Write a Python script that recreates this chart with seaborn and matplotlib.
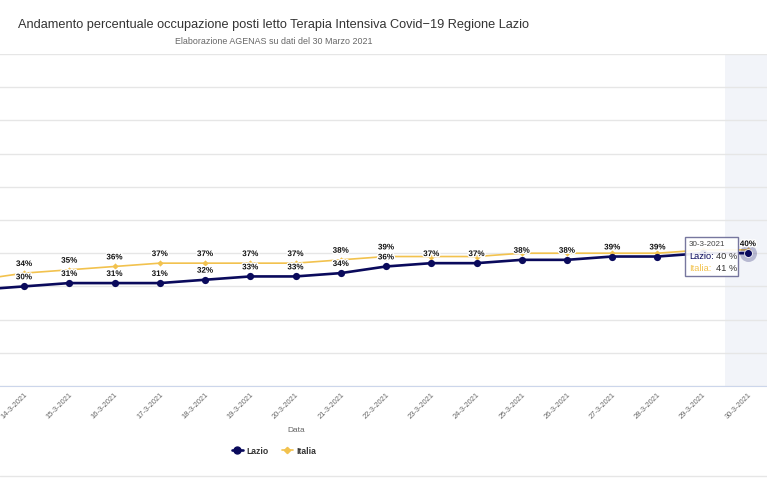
import matplotlib
matplotlib.use('Agg')
import matplotlib.pyplot as plt
import matplotlib.patheffects as pe
from matplotlib.lines import Line2D
from matplotlib.patches import Rectangle
import seaborn as sns
import pandas as pd

date = ['13-3-2021', '14-3-2021', '15-3-2021', '16-3-2021', '17-3-2021', '18-3-2021',
        '19-3-2021', '20-3-2021', '21-3-2021', '22-3-2021', '23-3-2021', '24-3-2021',
        '25-3-2021', '26-3-2021', '27-3-2021', '28-3-2021', '29-3-2021', '30-3-2021']
lazio = [29, 30, 31, 31, 31, 32, 33, 33, 34, 36, 37, 37, 38, 38, 39, 39, 40, 40]
italia = [32, 34, 35, 36, 37, 37, 37, 37, 38, 39, 39, 39, 40, 40, 40, 40, 41, 41]

c_lazio = '#0a0a5c'
c_italia = '#f2c24e'

sns.set_style('white')
plt.rcParams['font.family'] = ['Liberation Sans', 'DejaVu Sans']

W, H = 767, 478
fig = plt.figure(figsize=(W / 100, H / 100), dpi=100)
# l'area del grafico esce dal bordo sinistro (immagine ritagliata)
left_px, right_px, top_px, bot_px = -43.8, 770.6, 54, 386
ax = fig.add_axes([left_px / W, 1 - bot_px / H, (right_px - left_px) / W, (bot_px - top_px) / H])

df = pd.DataFrame({'Data': date, 'Lazio': lazio, 'Italia': italia})

sns.lineplot(data=df, x='Data', y='Italia', ax=ax, color=c_italia, lw=1.2,
             marker='D', markersize=3.2, markeredgewidth=0, zorder=3, sort=False)
sns.lineplot(data=df, x='Data', y='Lazio', ax=ax, color=c_lazio, lw=1.9,
             marker='o', markersize=5.2, markeredgewidth=0, zorder=4, sort=False)

n = len(date)
ax.set_xlim(-0.5, n - 0.5)
ax.set_ylim(0, 100)
ax.set_yticks(range(0, 101, 10))
ax.yaxis.grid(True, color='#e6e6e6', lw=1)
ax.xaxis.grid(False)
ax.set_yticklabels([])
ax.tick_params(axis='y', length=0)
ax.set_ylabel('')
ax.set_xlabel('')
for s in ['top', 'left', 'right']:
    ax.spines[s].set_visible(False)
ax.spines['bottom'].set_color('#ccd6eb')

# la prima data cade fuori dall'immagine: nessuna etichetta
tick_lab = [''] + date[1:]
ax.set_xticks(range(n))
ax.set_xticklabels(tick_lab, rotation=45, ha='right', va='top', rotation_mode='anchor',
                   fontsize=5.4, color='#666666')
ax.tick_params(axis='x', length=0, pad=4)

# banda di hover sull'ultima categoria
ax.axvspan(n - 1.5, n - 0.5, color='#ccd6eb', alpha=0.25, lw=0, zorder=0)
ax.scatter([date[-1]], [lazio[-1]], s=150, color=c_lazio, alpha=0.25, lw=0, zorder=5)
ax.scatter([date[-1]], [lazio[-1]], s=38, color='white', lw=0, zorder=5)
ax.scatter([date[-1]], [lazio[-1]], s=26, color=c_lazio, lw=0, zorder=6)

# etichette dei valori (la prima e' fuori dal riquadro, la penultima sotto il tooltip)
stroke = [pe.withStroke(linewidth=2, foreground='white')]
for i in range(1, n):
    if i == n - 2:
        continue
    ax.annotate('{}%'.format(lazio[i]), (i, lazio[i]), xytext=(0, 6.2), textcoords='offset points',
                ha='center', va='center', fontsize=5.8, fontweight='bold', color='#111111',
                path_effects=stroke, zorder=7)
    if italia[i] - lazio[i] >= 3:
        ax.annotate('{}%'.format(italia[i]), (i, italia[i]), xytext=(0, 6.2), textcoords='offset points',
                    ha='center', va='center', fontsize=5.8, fontweight='bold', color='#111111',
                    path_effects=stroke, zorder=7)

# titoli
fig.text(274 / W, 1 - 25 / H, 'Andamento percentuale occupazione posti letto Terapia Intensiva Covid−19 Regione Lazio',
         ha='center', va='center', fontsize=9.2, color='#333333')
fig.text(274 / W, 1 - 42 / H, 'Elaborazione AGENAS su dati del 30 Marzo 2021',
         ha='center', va='center', fontsize=6.4, color='#666666')
fig.text(296 / W, 1 - 430 / H, 'Data', ha='center', va='center', fontsize=6, color='#666666')

# legenda
handles = [Line2D([], [], color=c_lazio, lw=1.9, marker='o', markersize=5),
           Line2D([], [], color=c_italia, lw=1.2, marker='D', markersize=3.2)]
leg = fig.legend(handles, ['Lazio', 'Italia'], loc='center', bbox_to_anchor=(274 / W, 1 - 451 / H),
                 ncol=2, frameon=False, fontsize=6.2, handlelength=1.3, columnspacing=1.5,
                 handletextpad=0.4)
for t in leg.get_texts():
    t.set_fontweight('bold')
    t.set_color('#333333')

# tooltip
x0, y0, x1, y1 = 685, 237, 738, 276
fig.add_artist(Rectangle((x0 / W, 1 - y1 / H), (x1 - x0) / W, (y1 - y0) / H, transform=fig.transFigure,
                         facecolor='white', alpha=0.92, edgecolor='#6b6b96', lw=1, zorder=10))
fig.text(689 / W, 1 - 244.5 / H, '30-3-2021', fontsize=5.8, color='#444444', va='center', zorder=11)
fig.text(689 / W, 1 - 256.5 / H, 'Lazio:', fontsize=6.7, color=c_lazio, va='center', zorder=11)
fig.text(716 / W, 1 - 256.5 / H, '40 %', fontsize=6.7, color='#333333', va='center', zorder=11)
fig.text(689 / W, 1 - 268.5 / H, 'Italia:', fontsize=6.7, color=c_italia, va='center', zorder=11)
fig.text(716 / W, 1 - 268.5 / H, '41 %', fontsize=6.7, color='#333333', va='center', zorder=11)

# bordo inferiore del contenitore
fig.add_artist(Line2D([0, 1], [1 - 476 / H, 1 - 476 / H], transform=fig.transFigure, color='#e6e6e6', lw=1))

fig.savefig('out.png', dpi=100)
